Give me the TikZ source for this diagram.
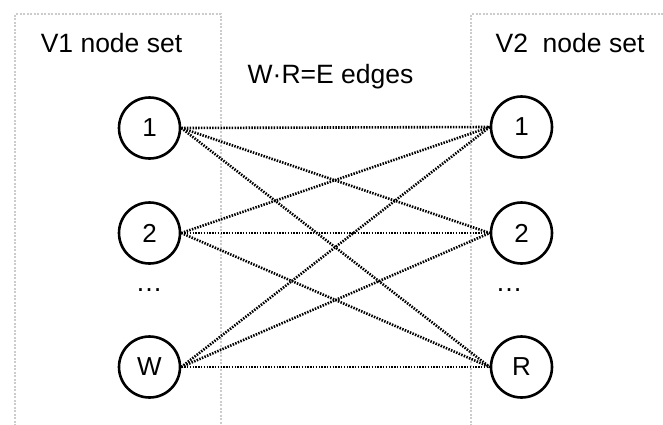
\documentclass[tikz,border=0pt]{standalone}
\usepackage{fontspec}
\setmainfont{Liberation Sans}
\begin{document}
\begin{tikzpicture}[x=1pt,y=-1pt,
  setbox/.style={draw=black!20, line width=2.2pt, dash pattern=on 2pt off 1.5pt},
  vnode/.style={circle, draw=black, line width=2.6pt, minimum size=61pt, inner sep=0pt, font=\fontsize{26}{30}\selectfont},
  edge/.style={line width=2.6pt, dash pattern=on 1.5pt off 1.3pt},
  lbl/.style={font=\fontsize{26.5}{30}\selectfont, anchor=base, inner sep=0pt},
  dots/.style={font=\fontsize{27}{30}\selectfont, inner sep=0pt}]
\useasboundingbox (0,0) rectangle (663,424);
\fill[white] (0,0) rectangle (663,424);
\draw[setbox] (15,440) -- (15,14) -- (221,14) -- (221,440);
\draw[setbox] (471,440) -- (471,14) -- (680,14);
\node[lbl] (v1) at (111.5,52) {V1 node set};
\node[lbl] (v2) at (570,52) {V2~~node set};
\node[lbl] (e) at (330.5,83) {W·R=E edges};
\node[vnode] (a1) at (149.5,128) {1};
\node[vnode] (a2) at (149.5,233) {2};
\node[vnode] (aw) at (149.5,367) {W};
\node[vnode] (b1) at (521.5,127) {1};
\node[vnode] (b2) at (521.5,233) {2};
\node[vnode] (br) at (521.5,367) {R};
\node[dots] (ad) at (149,290) {…};
\node[dots] (bd) at (509,290) {…};
\foreach \s in {a1,a2,aw}{
  \foreach \t in {b1,b2,br}{
    \draw[edge] (\s.east) -- (\t.west);
  }
}
\end{tikzpicture}
\end{document}
